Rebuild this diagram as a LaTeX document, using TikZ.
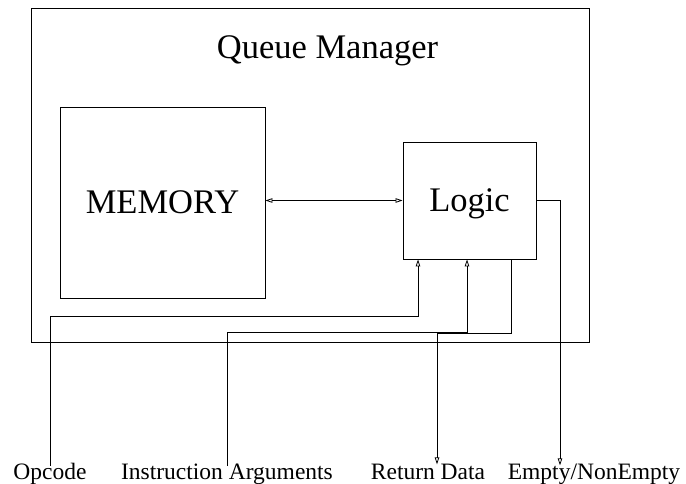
\documentclass[tikz,border=0pt]{standalone}
\usepackage{fontspec}
\setmainfont{Liberation Serif}
\usetikzlibrary{arrows.meta, positioning, calc}

\begin{document}
\begin{tikzpicture}[x=1pt, y=-1pt,
    blk/.style={rectangle, draw, line width=0.9pt, inner sep=0pt, text depth=0pt,
                font=\fontsize{34.5}{41}\selectfont},
    lbl/.style={inner sep=0pt, anchor=base, font=\fontsize{23.5}{28}\selectfont},
    sig/.style={line width=0.8pt},
    tip/.style={sig, -{Triangle[open, length=7pt, width=4.5pt]}},
    both/.style={sig, {Triangle[open, length=7pt, width=4.5pt]}-{Triangle[open, length=7pt, width=4.5pt]}}
  ]
  \useasboundingbox (0,0) rectangle (686,483);

  % Queue manager frame
  \node[blk, minimum width=558pt, minimum height=334pt] (qm) at (310,175) {};
  \node[inner sep=0pt, anchor=base, font=\fontsize{34.5}{41}\selectfont]
        (title) at (327.5,58) {Queue Manager};

  % Memory and control logic
  \node[blk, minimum width=205pt, minimum height=191pt] (mem)   at (162.5,202.5) {MEMORY};
  \node[blk, minimum width=133pt, minimum height=117pt] (logic) at (469.5,200.5) {Logic};

  % Ports on the logic block
  \coordinate (in1)  at ([xshift=-51.5pt]logic.south);
  \coordinate (in2)  at ([xshift=-2.5pt]logic.south);
  \coordinate (out1) at ([xshift=41.5pt]logic.south);

  % Outside signals
  \node[lbl] (opc) at (50,479)    {Opcode};
  \node[lbl] (arg) at (227,479)   {Instruction Arguments};
  \node[lbl] (ret) at (428,479)   {Return Data};
  \node[lbl] (emp) at (594,479)   {Empty/NonEmpty};

  % Memory <-> logic
  \draw[both] (mem.east |- logic.west) -- (logic.west);

  % Inputs
  \draw[tip] ([yshift=-3pt]opc.north) -- ++(0,-149) -| (in1);
  \draw[tip] ([yshift=-3pt]arg.north) -- ++(0,-134) -| (in2);

  % Outputs
  \draw[tip] (out1) -- ++(0,74) -| ([xshift=9pt, yshift=-1pt]ret.north);
  \draw[tip] (logic.east) -| ([xshift=-34pt, yshift=-2pt]emp.north);
\end{tikzpicture}
\end{document}
